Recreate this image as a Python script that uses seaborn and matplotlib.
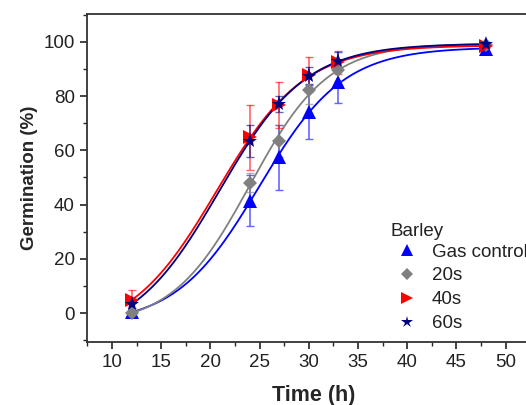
import numpy as np
import pandas as pd
import matplotlib
matplotlib.use("Agg")
import matplotlib.pyplot as plt
from matplotlib.lines import Line2D
from matplotlib.ticker import MultipleLocator
import seaborn as sns

# ---- data ----
time_h = [12, 24, 27, 30, 33, 48]
series_names = ["Gas control", "20s", "40s", "60s"]
gas_control = [0.3, 41.5, 57.5, 74.0, 85.0, 97.3]
gas_control_err = [0.8, 9.5, 12.0, 10.0, 7.5, 1.0]
s20 = [0.0, 48.0, 63.5, 82.2, 89.6, 98.8]
s20_err = [0.5, 3.5, 6.0, 5.0, 4.0, 0.8]
s40 = [4.8, 64.8, 76.8, 87.9, 92.4, 98.3]
s40_err = [3.7, 12.0, 8.5, 6.3, 4.3, 0.8]
s60 = [3.3, 63.5, 77.0, 87.5, 92.8, 99.0]
s60_err = [1.5, 6.0, 3.0, 3.0, 3.5, 0.8]
legend_title = "Barley"

values = [gas_control, s20, s40, s60]
errors = [gas_control_err, s20_err, s40_err, s60_err]
colors = ["#0000FF", "#808080", "#FF0000", "#000080"]
markers = ["^", "D", ">", "*"]
msizes = [9.5, 7.5, 9.5, 11]
leg_msizes = [8, 6.5, 8, 9]

sns.set_theme(style="ticks")
plt.rcParams["font.family"] = ["Liberation Sans", "DejaVu Sans"]

fig = plt.figure(figsize=(5.26, 4.05), dpi=100)
ax = fig.add_axes([0.166, 0.1563, 1.0265 - 0.166, 0.9654 - 0.1563])


def boltzmann_fit(x, y):
    """Four-parameter Boltzmann (sigmoid) least-squares fit by grid search."""
    x = np.asarray(x, float)
    y = np.asarray(y, float)
    x0g, dxg = np.meshgrid(np.arange(15, 32, 0.05), np.arange(1.0, 9.0, 0.02))
    x0g = x0g.ravel()[:, None]
    dxg = dxg.ravel()[:, None]
    u = 1.0 / (1.0 + np.exp((x[None, :] - x0g) / dxg))
    w = 1 - u
    suu = (u * u).sum(1); sww = (w * w).sum(1); suw = (u * w).sum(1)
    suy = (u * y).sum(1); swy = (w * y).sum(1)
    det = suu * sww - suw ** 2
    A1 = (suy * sww - swy * suw) / det
    A2 = (swy * suu - suy * suw) / det
    pred = A1[:, None] * u + A2[:, None] * w
    sse = ((pred - y) ** 2).sum(1)
    i = np.nanargmin(sse)
    return A1[i], A2[i], x0g[i, 0], dxg[i, 0]


xs = np.linspace(12, 48, 300)
frames = []
for name, v in zip(series_names, values):
    A1, A2, x0, dx = boltzmann_fit(time_h, v)
    g = A2 + (A1 - A2) / (1 + np.exp((xs - x0) / dx))
    frames.append(pd.DataFrame({"t": xs, "g": g, "s": name}))
curves = pd.concat(frames)
sns.lineplot(data=curves, x="t", y="g", hue="s", palette=colors, ax=ax,
             legend=False, linewidth=1.3, zorder=2)

pts = pd.DataFrame({
    "t": np.tile(time_h, 4),
    "g": np.concatenate(values),
    "e": np.concatenate(errors),
    "s": np.repeat(series_names, len(time_h)),
})
for name, c, m, ms in zip(series_names, colors, markers, msizes):
    d = pts[pts.s == name]
    ax.errorbar(d.t, d.g, yerr=d.e, fmt="none", ecolor=c, elinewidth=1.2,
                capsize=3, capthick=1.0, alpha=0.6, zorder=3)
    ax.plot(d.t, d.g, linestyle="none", marker=m, color=c, markersize=ms,
            markeredgewidth=0, zorder=4)

ax.set_xlim(7.5, 53.5)
ax.set_ylim(-10.5, 110.2)
ax.xaxis.set_major_locator(MultipleLocator(5))
ax.xaxis.set_minor_locator(MultipleLocator(2.5))
ax.yaxis.set_major_locator(MultipleLocator(20))
ax.yaxis.set_minor_locator(MultipleLocator(10))
ax.tick_params(which="major", direction="out", length=5, width=1.2,
               labelsize=13.5, colors="#222222", top=False, right=False, pad=4)
ax.tick_params(which="minor", direction="out", length=3, width=1.0,
               top=False, right=False)
for sp in ax.spines.values():
    sp.set_linewidth(1.3)
    sp.set_color("#333333")

ax.set_xlabel("Time (h)", fontsize=15.5, fontweight="bold", labelpad=10)
ax.set_ylabel("Germination (%)", fontsize=13.5, fontweight="bold", labelpad=4)

ax.text(0.669, 0.335, legend_title, transform=ax.transAxes, fontsize=13.5,
        ha="left", va="center", color="#222222")
handles = [Line2D([], [], linestyle="none", marker=m, color=c, markersize=ms,
                  markeredgewidth=0) for c, m, ms in zip(colors, markers, leg_msizes)]
leg = ax.legend(handles, series_names, loc="upper left",
                bbox_to_anchor=(0.6865, 0.30), frameon=False, fontsize=13.5,
                handletextpad=0.8, labelspacing=0.36, borderpad=0,
                borderaxespad=0, handlelength=1.0)
for t in leg.get_texts():
    t.set_color("#222222")

fig.savefig("out.png", dpi=100)
